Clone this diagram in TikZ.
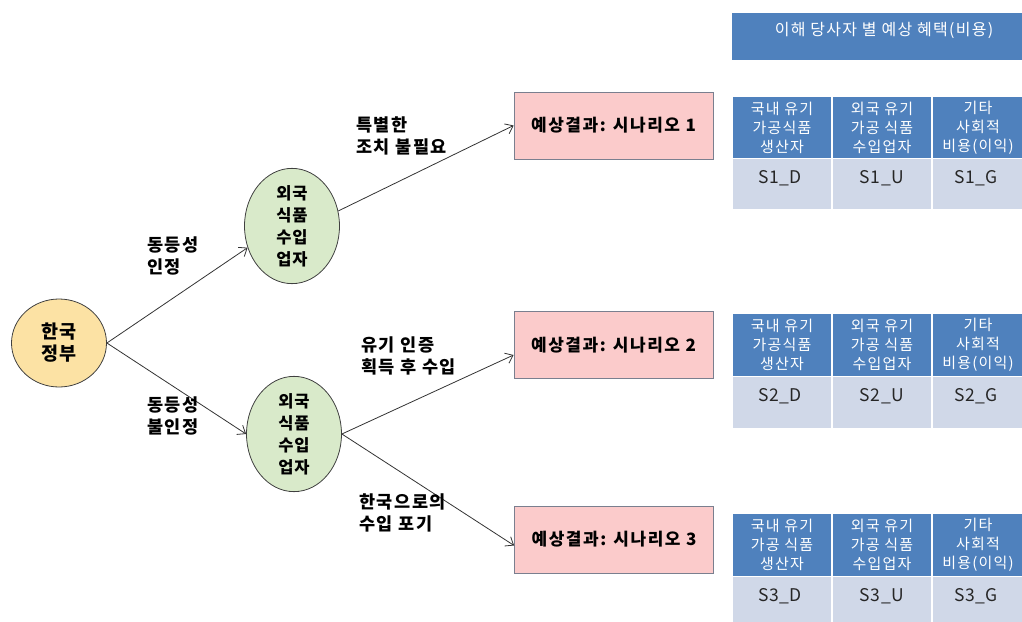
\documentclass[tikz,border=0pt]{standalone}
\usepackage{fontspec}
\setmainfont{Noto Sans CJK KR}
\usetikzlibrary{arrows.meta,calc,shapes.geometric}
\definecolor{govfill}{HTML}{FCE2A4}
\definecolor{impfill}{HTML}{D9EACA}
\definecolor{pinkfill}{HTML}{FBCBCB}
\definecolor{pinkline}{HTML}{7A7F8F}
\definecolor{hblue}{HTML}{4F81BD}
\definecolor{dgray}{HTML}{D0D8E8}
\tikzset{
  actor/.style={ellipse, draw=black!75, line width=0.8pt, inner sep=0pt, align=center},
  gov/.style={actor, fill=govfill, minimum width=95pt, minimum height=88pt,
    font=\fontsize{18.5}{22}\selectfont\bfseries\addfontfeature{LetterSpace=6}},
  imp/.style={actor, fill=impfill, minimum width=95pt, minimum height=99pt,
    font=\fontsize{16.5}{22}\selectfont\bfseries\addfontfeature{LetterSpace=4}},
  outcome/.style={rectangle, draw=pinkline, line width=0.8pt, fill=pinkfill, minimum width=199pt,
    minimum height=67pt, inner sep=0pt, font=\fontsize{17}{20}\selectfont\bfseries\addfontfeature{LetterSpace=9}},
  lbl/.style={anchor=north west, align=left, inner sep=0pt,
    font=\fontsize{17.5}{21.5}\selectfont\bfseries\addfontfeature{LetterSpace=9}},
  conn/.style={draw=black!80, line width=0.8pt, -{Straight Barb[length=7pt,width=11pt]}},
  hcell/.style={rectangle, fill=hblue, draw=white, line width=1.5pt, minimum width=100pt,
    inner sep=0pt, align=center, text=white,
    font=\fontsize{15}{19}\selectfont\addfontfeature{LetterSpace=8}},
  dcell/.style={rectangle, fill=dgray, draw=white, line width=1.5pt, minimum width=100pt, inner sep=0pt},
  dtext/.style={inner sep=0pt, font=\fontsize{17.5}{18}\selectfont\addfontfeature{LetterSpace=3}, text=black!85},
}
\begin{document}
\begin{tikzpicture}[x=1pt,y=-1pt]
\useasboundingbox (0,0) rectangle (1022,621);
% actors
\node[gov] (gov) at (59,343) {한국\\정부};
\node[imp] (imp1) at (292,226) {외국\\식품\\수입\\업자};
\node[imp] (imp2) at (294,434) {외국\\식품\\수입\\업자};
% outcomes
\node[outcome] (out1) at (613.5,125.5) {예상결과: 시나리오 1};
\node[outcome] (out2) at (613.5,345) {예상결과: 시나리오 2};
\node[outcome] (out3) at (614,539.5) {예상결과: 시나리오 3};
% connectors
\draw[conn] (gov.east) -- (imp1.206);
\draw[conn] (gov.east) -- (imp2.west);
\draw[conn] (imp1.18) -- (out1.west);
\draw[conn] (imp2.east) -- ($(out2.west)+(0,10)$);
\draw[conn] (imp2.east) -- ($(out3.west)+(0,6)$);
% labels
\node[lbl] (l1) at (147,237) {동등성\\인정};
\node[lbl] (l2) at (147,397) {동등성\\불인정};
\node[lbl] (l3) at (356,117) {특별한\\조치 불필요};
\node[lbl] (l4) at (361,337) {유기 인증\\획득 후 수입};
\node[lbl] (l5) at (359,494) {한국으로의\\수입 포기};
% title block
\node[rectangle, fill=hblue, minimum width=290pt, minimum height=47pt, inner sep=0pt] (title) at (877,36.5) {};
\node[text=white, font=\fontsize{16}{18}\selectfont\addfontfeature{LetterSpace=8}, inner sep=0pt] (titletext) at (884,30) {이해 당사자 별 예상 혜택(비용)};
% tables
\foreach \t/\top/\hh/\dh/\ha in {1/95/62/51/가공식품, 2/312/63/52/가공식품, 3/512/63/60/가공 식품}{
  \node[hcell, minimum height=\hh pt] (t\t h1) at (782,\top+\hh/2+1.5) {국내 유기\\\ha\\생산자};
  \node[hcell, minimum height=\hh pt] (t\t h2) at (882,\top+\hh/2+1.5) {외국 유기\\가공 식품\\수입업자};
  \node[hcell, minimum height=\hh pt, minimum width=92pt] (t\t h3) at (978,\top+\hh/2+1.5) {기타\\사회적\\비용(이익)};
  \node[dcell, minimum height=\dh pt] (t\t d1) at (782,\top+\hh+\dh/2+1.5) {};
  \node[dcell, minimum height=\dh pt] (t\t d2) at (882,\top+\hh+\dh/2+1.5) {};
  \node[dcell, minimum height=\dh pt, minimum width=92pt] (t\t d3) at (978,\top+\hh+\dh/2+1.5) {};
  \node[dtext] (t\t x1) at (780,\top+\hh+21) {S\t\_D};
  \node[dtext] (t\t x2) at (882,\top+\hh+21) {S\t\_U};
  \node[dtext] (t\t x3) at (976,\top+\hh+21) {S\t\_G};
}
\end{tikzpicture}
\end{document}
